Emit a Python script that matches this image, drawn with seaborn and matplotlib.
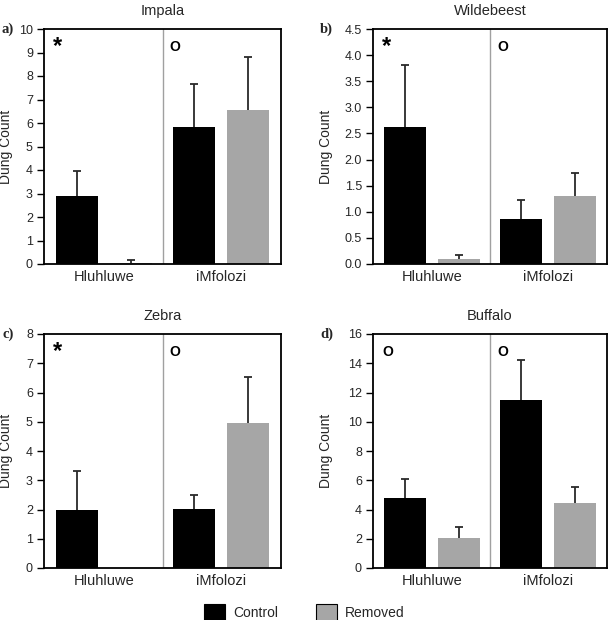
import numpy as np
import pandas as pd
import matplotlib
matplotlib.use("Agg")
import matplotlib.pyplot as plt
import seaborn as sns
from matplotlib.patches import Patch

sites = ["Hluhluwe", "iMfolozi"]
treatments = ["Control", "Removed"]
species = ["Impala", "Wildebeest", "Zebra", "Buffalo"]
panel_labels = ["a)", "b)", "c)", "d)"]

# means per species: [Hluhluwe Control, Hluhluwe Removed, iMfolozi Control, iMfolozi Removed]
impala_mean = [2.90, 0.05, 5.82, 6.57]
impala_err = [1.05, 0.10, 1.86, 2.23]
wildebeest_mean = [2.62, 0.09, 0.87, 1.30]
wildebeest_err = [1.20, 0.08, 0.36, 0.45]
zebra_mean = [1.98, 0.0, 2.02, 4.97]
zebra_err = [1.34, 0.0, 0.48, 1.56]
buffalo_mean = [4.78, 2.02, 11.48, 4.45]
buffalo_err = [1.29, 0.76, 2.75, 1.12]

ylims = [10, 4.5, 8, 16]
yticks = [np.arange(0, 11, 1), np.arange(0, 4.51, 0.5), np.arange(0, 9, 1), np.arange(0, 17, 2)]
ytick_fmt = ["{:.0f}", "{:.1f}", "{:.0f}", "{:.0f}"]
site_marks = [["*", "O"], ["*", "O"], ["*", "O"], ["O", "O"]]

means = [impala_mean, wildebeest_mean, zebra_mean, buffalo_mean]
errs = [impala_err, wildebeest_err, zebra_err, buffalo_err]

colors = {"Control": "#000000", "Removed": "#a6a6a6"}

sns.set_theme(style="white")
plt.rcParams["font.family"] = ["Liberation Sans", "DejaVu Sans"]

W, H = 609, 620
fig = plt.figure(figsize=(W / 100, H / 100), dpi=100)

boxes = [
    (44, 29, 281, 264),
    (373, 29, 607, 264),
    (44, 334, 281, 568),
    (373, 334, 607, 568),
]
ylabel_x = [-0.129, -0.173, -0.129, -0.173]
plabel_x = [-0.127, -0.17, -0.127, -0.17]

for i, sp in enumerate(species):
    x0, y0, x1, y1 = boxes[i]
    ax = fig.add_axes([x0 / W, 1 - y1 / H, (x1 - x0) / W, (y1 - y0) / H])
    df = pd.DataFrame({
        "Site": [s for s in sites for _ in treatments],
        "Treatment": [t for _ in sites for t in treatments],
        "Mean": means[i],
        "Err": errs[i],
    })
    sns.barplot(data=df, x="Site", y="Mean", hue="Treatment", order=sites,
                hue_order=treatments, palette=colors, width=0.92, gap=0.21,
                errorbar=None, legend=False, ax=ax, linewidth=0)
    bar_conts = list(ax.containers)
    for ci, cont in enumerate(bar_conts):
        t = treatments[ci]
        sub = df[df["Treatment"] == t].set_index("Site").loc[sites]
        for bar, m, e in zip(cont, sub["Mean"], sub["Err"]):
            if m <= 0 and e <= 0:
                continue
            xc = bar.get_x() + bar.get_width() / 2
            eb = ax.errorbar([xc], [m], yerr=[[0], [e]], fmt="none", ecolor="#2a2a2a",
                             elinewidth=1.3, capsize=3, capthick=1.3, zorder=1)
            caps = eb[1]
            if len(caps) >= 2:
                caps[0].set_visible(False)
    ax.set_xlim(-0.51, 1.51)
    ax.set_ylim(0, ylims[i])
    ax.set_yticks(yticks[i])
    ax.set_yticklabels([ytick_fmt[i].format(v) for v in yticks[i]], fontsize=9)
    ax.axvline(0.5, color="#a0a0a0", lw=1.0, zorder=0)
    ax.set_xlabel("")
    ax.set_ylabel("Dung Count", fontsize=10)
    ax.yaxis.set_label_coords(ylabel_x[i], 0.5)
    ax.set_title(sp, fontsize=10.5, pad=10)
    ax.tick_params(axis="y", which="both", left=True, length=5, width=1, color="black", pad=3)
    ax.tick_params(axis="x", length=0, labelsize=10.5, pad=4)
    for s in ax.spines.values():
        s.set_color("black")
        s.set_linewidth(1.3)
    for j, mk in enumerate(site_marks[i]):
        xpos = -0.43 if j == 0 else 0.56
        if mk == "*":
            ax.text(xpos, ylims[i] * 0.975, "*", fontsize=17, fontweight="bold",
                    ha="left", va="top", color="black")
        else:
            ax.text(xpos, ylims[i] * 0.955, "O", fontsize=10, fontweight="bold",
                    ha="left", va="top", color="black")
    ax.text(plabel_x[i], 1.0, panel_labels[i], transform=ax.transAxes, fontsize=10.5,
            fontweight="bold", family=["Liberation Serif", "DejaVu Serif"],
            ha="right", va="center")

handles = [Patch(facecolor=colors[t], edgecolor="black", linewidth=0.8) for t in treatments]
fig.legend(handles, treatments, loc="lower center", bbox_to_anchor=(0.5, -0.021), ncol=2,
           frameon=False, fontsize=10, handlelength=1.5, handleheight=1.5,
           columnspacing=2.7, handletextpad=0.6)

fig.savefig("out.png", dpi=100)
